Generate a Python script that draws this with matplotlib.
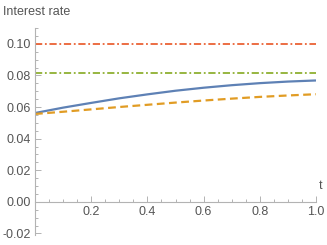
import matplotlib
matplotlib.use("Agg")
import matplotlib.pyplot as plt
from matplotlib.ticker import MultipleLocator, FixedLocator

# values
t = [0.0, 0.1, 0.2, 0.3, 0.4, 0.5, 0.6, 0.7, 0.8, 0.9, 1.0]
rate_blue = [0.0562, 0.0596, 0.0626, 0.0655, 0.0680, 0.0703,
             0.0722, 0.0738, 0.0751, 0.0761, 0.0768]
rate_orange = [0.0556, 0.0570, 0.0585, 0.0600, 0.0614, 0.0628,
               0.0641, 0.0653, 0.0664, 0.0673, 0.0681]
level_red = 0.100
level_green = 0.0818

x_ticks = [0.2, 0.4, 0.6, 0.8, 1.0]
y_ticks = [-0.02, 0.00, 0.02, 0.04, 0.06, 0.08, 0.10]

plt.rcParams['font.family'] = ['Liberation Sans', 'DejaVu Sans']

fig = plt.figure(figsize=(3.27, 2.45), dpi=100)
ax = fig.add_axes([35 / 327, 1 - 235 / 245, 281 / 327, 207 / 245])

ax.plot(t, rate_blue, color='#5E81B5', lw=1.6, solid_capstyle='butt')
ax.plot(t, rate_orange, color='#E19C24', lw=1.6, dashes=(3.5, 2.0))
ax.plot([0, 1], [level_red, level_red], color='#EB6235', lw=1.3,
        dashes=(4, 1.5, 1, 1.5))
ax.plot([0, 1], [level_green, level_green], color='#8FB032', lw=1.3,
        dashes=(4, 1.5, 1, 1.5))

ax.set_xlim(0, 1.0)
ax.set_ylim(-0.021, 0.11)

for s in ['top', 'right']:
    ax.spines[s].set_visible(False)
ax.spines['left'].set_position(('data', 0))
ax.spines['bottom'].set_position(('data', 0))
for s in ['left', 'bottom']:
    ax.spines[s].set_color('#b3b3b3')
    ax.spines[s].set_linewidth(0.8)

ax.xaxis.set_major_locator(FixedLocator(x_ticks))
ax.xaxis.set_minor_locator(MultipleLocator(0.05))
ax.yaxis.set_major_locator(FixedLocator(y_ticks))
ax.yaxis.set_minor_locator(MultipleLocator(0.005))
ax.set_xticklabels(["%.1f" % v for v in x_ticks])
ax.set_yticklabels(["%.2f" % v for v in y_ticks])

ax.tick_params(which='both', direction='in', color='#b3b3b3',
               labelcolor='#555555', labelsize=9, width=0.7)
ax.tick_params(which='major', length=4, pad=3)
ax.tick_params(which='minor', length=2.2)

fig.text(3 / 327, 1 - 12 / 245, "Interest rate", color='#555555',
         fontsize=9, va='center', ha='left')
fig.text(319 / 327, 1 - 186 / 245, "t", color='#555555',
         fontsize=9, va='center', ha='left')

fig.savefig("out.png", dpi=100)
